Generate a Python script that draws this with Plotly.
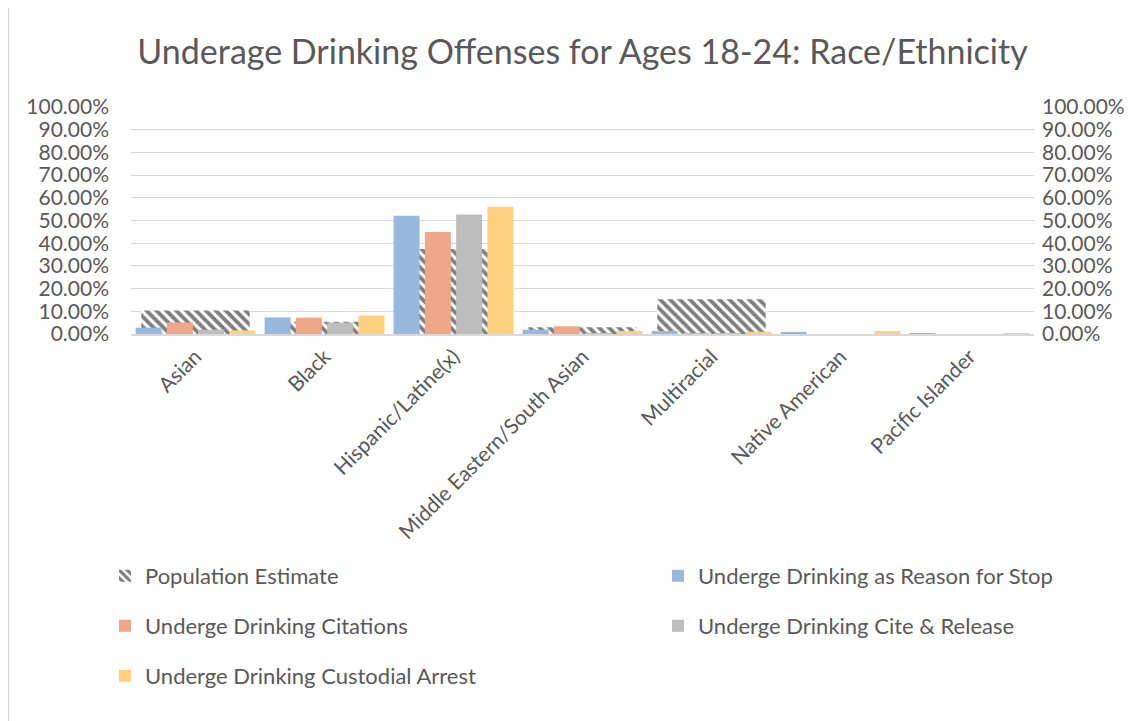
import plotly.graph_objects as go

categories = ['Asian', 'Black', 'Hispanic/Latine(x)', 'Middle Eastern/South Asian',
              'Multiracial', 'Native American', 'Pacific Islander']

# population share (secondary axis, patterned wide bar)
population = [0.103, 0.054, 0.374, 0.030, 0.153, 0.0, 0.0]

# offenses (primary axis)
stop_reason = [0.028, 0.073, 0.521, 0.019, 0.013, 0.009, 0.003]
citations = [0.051, 0.072, 0.449, 0.034, 0.002, 0.000, 0.000]
cite_release = [0.019, 0.050, 0.526, 0.002, 0.002, 0.000, 0.000]
custodial = [0.016, 0.081, 0.561, 0.013, 0.010, 0.013, 0.004]

series_names = ['Underge Drinking as Reason for Stop', 'Underge Drinking Citations',
                'Underge Drinking Cite & Release', 'Underge Drinking Custodial Arrest']
series_colors = ['#97B9E0', '#F0A788', '#BDBDBD', '#FFD17F']

FONT = 'Lato'
GREY = '#595959'

W, H = 1146, 721
OFF = 8                                  # page body margin
L, R, T, B = 131 - OFF, 1034 - OFF, 107 - OFF, 334 - OFF   # plot area in figure px


def px_x(page_x):
    return (page_x - OFF - L) / (R - L)


def px_y(page_y):
    return (B - (page_y - OFF)) / (B - T)


def main():
    fig = go.Figure()

    fig.add_trace(go.Bar(x=categories, y=population, name='Population Estimate',
                         width=0.84, yaxis='y',
                         marker=dict(color='white', line=dict(width=0),
                                     pattern=dict(shape='\\', fgcolor='black', bgcolor='white',
                                                  size=7, solidity=0.55, fillmode='overlay')),
                         legend='legend'))

    data = [stop_reason, citations, cite_release, custodial]
    legends = ['legend2', 'legend3', 'legend4', 'legend5']
    for name, vals, col, lg in zip(series_names, data, series_colors, legends):
        fig.add_trace(go.Bar(x=categories, y=vals, name=name, yaxis='y2',
                             marker=dict(color=col, line=dict(width=0)), legend=lg))

    ticks = [i / 10 for i in range(11)]
    ticktext = ['%.2f%%' % (t * 100) for t in ticks]

    # legend rows / columns (page px)
    col1, col2 = 105, 658
    rows = [576, 626, 676]
    legend_pos = {
        'legend': (col1, rows[0]),
        'legend2': (col2, rows[0]),
        'legend3': (col1, rows[1]),
        'legend4': (col2, rows[1]),
        'legend5': (col1, rows[2]),
    }
    legend_layout = {}
    for key, (lx, ly) in legend_pos.items():
        legend_layout[key] = dict(x=px_x(lx), y=px_y(ly), xanchor='left', yanchor='middle',
                                  font=dict(family=FONT, size=22, color=GREY),
                                  bgcolor='rgba(0,0,0,0)', itemwidth=30)

    fig.update_layout(
        width=W, height=H,
        margin=dict(l=L, r=W - R, t=T, b=H - B, autoexpand=False),
        paper_bgcolor='white', plot_bgcolor='white',
        barmode='group', bargap=0.03, bargroupgap=0.17,
        title=dict(text='Underage Drinking Offenses for Ages 18-24: Race/Ethnicity',
                   x=0.5, xref='paper', xanchor='center',
                   y=1 - (52 - OFF) / H, yref='container', yanchor='middle',
                   font=dict(family=FONT, size=34, color=GREY)),
        xaxis=dict(tickangle=-45, tickfont=dict(family=FONT, size=21, color=GREY),
                   showline=True, linecolor='#D9D9D9', linewidth=2, ticks='',
                   showgrid=False),
        yaxis=dict(range=[0, 1], tickvals=ticks, ticktext=ticktext,
                   tickfont=dict(family=FONT, size=21, color=GREY),
                   showgrid=True, gridcolor='#D9D9D9', gridwidth=1,
                   zeroline=False, ticklabelstandoff=21),
        yaxis2=dict(range=[0, 1], tickvals=ticks, ticktext=ticktext, overlaying='y',
                    side='right', tickfont=dict(family=FONT, size=21, color=GREY),
                    showgrid=False, zeroline=False, ticklabelstandoff=7),
        font=dict(family=FONT, color=GREY),
        showlegend=True,
        **legend_layout,
    )

    # chart border: only the left edge falls inside the window
    fig.add_shape(type='line', xref='paper', yref='paper',
                  x0=px_x(8.5), x1=px_x(8.5), y0=px_y(730), y1=px_y(0),
                  line=dict(color='#D9D9D9', width=1.5), layer='below')

    fig.write_html('out.html')


if __name__ == '__main__':
    main()
